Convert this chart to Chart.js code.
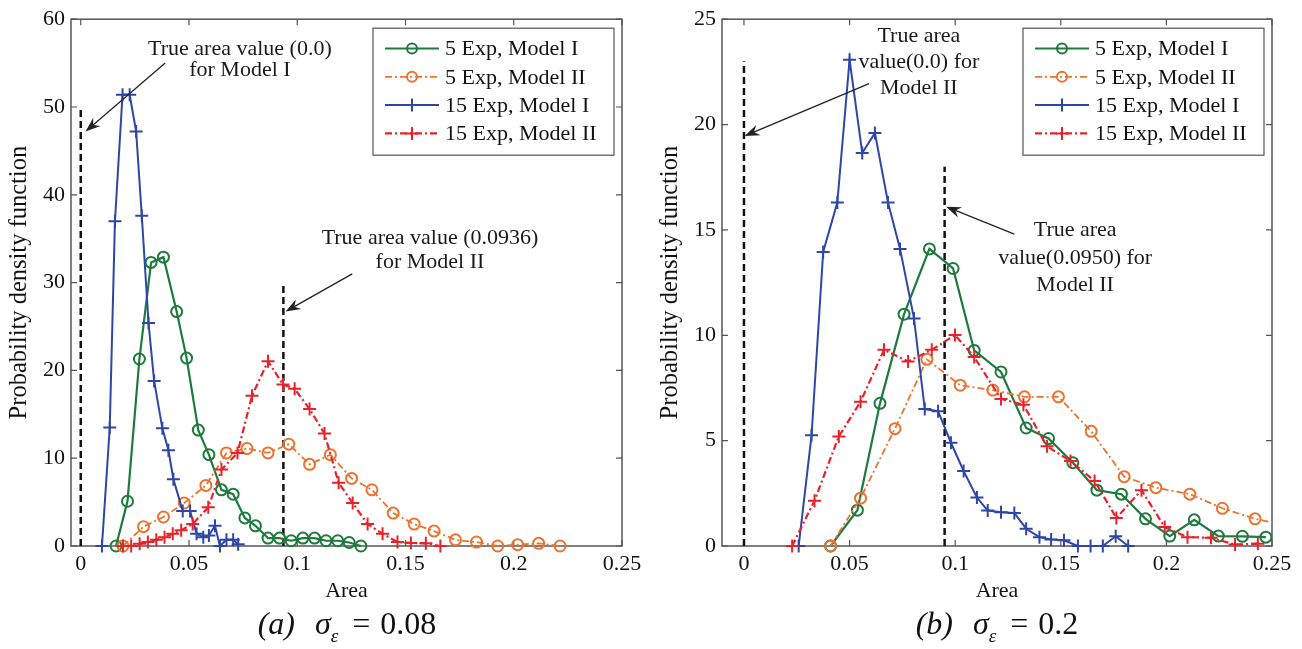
<!DOCTYPE html>
<html>
<head>
<meta charset="utf-8">
<script src="https://cdn.jsdelivr.net/npm/chart.js@4.4.0/dist/chart.umd.min.js"></script>
<style>
  body { margin: 0; background: #fff; width: 1302px; height: 649px; overflow: hidden; position: relative;
         font-family: "Liberation Serif", "Times New Roman", serif; color: #111; }
  .panel { position: absolute; top: 0; width: 651px; height: 606px; }
  .caption { position: absolute; top: 604px; width: 300px; height: 38px; line-height: 38px; font-size: 32px;
             text-align: center; white-space: nowrap; }
  .caption sub { font-size: 60%; vertical-align: -0.4em; }
  .caption .sig { margin-left: 20px; }
  .caption .eq { margin: 0 10px 0 14px; }
</style>
</head>
<body>
<div class="panel" style="left:0"><canvas id="panelA" width="651" height="606"></canvas></div>
<div class="panel" style="left:651px"><canvas id="panelB" width="651" height="606"></canvas></div>
<div class="caption" style="left:197px"><i>(a)</i><i class="sig">σ</i><sub><i>ε</i></sub><span class="eq">=</span>0.08</div>
<div class="caption" style="left:847px"><i>(b)</i><i class="sig">σ</i><sub><i>ε</i></sub><span class="eq">=</span>0.2</div>
<script>
const FONT = '"Liberation Serif", "Times New Roman", serif';

const xTicks = [0, 0.05, 0.1, 0.15, 0.2, 0.25];
const yTicksA = [0, 10, 20, 30, 40, 50, 60];
const yTicksB = [0, 5, 10, 15, 20, 25];

const labels = ['5 Exp, Model I', '5 Exp, Model II', '15 Exp, Model I', '15 Exp, Model II'];

// (a) sigma = 0.08
const a5m1X = [0.0163, 0.0216, 0.0271, 0.0325, 0.0382, 0.0443, 0.0489, 0.0543, 0.0592, 0.065, 0.0704, 0.0758,
               0.0807, 0.0865, 0.0918, 0.0972, 0.1026, 0.108, 0.1133, 0.1187, 0.124, 0.1294];
const a5m1Y = [0, 5.1, 21.3, 32.3, 32.9, 26.7, 21.4, 13.2, 10.4, 6.4, 5.9, 3.2,
               2.3, 0.9, 0.9, 0.6, 0.9, 0.9, 0.6, 0.6, 0.4, 0];
const a5m2X = [0.0195, 0.029, 0.0382, 0.0478, 0.0578, 0.0673, 0.0768, 0.0865, 0.0961, 0.1057, 0.1153, 0.1251,
               0.1345, 0.1443, 0.154, 0.1632, 0.1731, 0.1828, 0.1926, 0.2018, 0.2115, 0.2214];
const a5m2Y = [0, 2.2, 3.3, 4.9, 6.9, 10.6, 11.1, 10.6, 11.6, 9.3, 10.4, 7.7,
               6.4, 3.75, 2.5, 1.7, 0.7, 0.45, 0, 0.15, 0.3, 0];
const a15m1X = [0.0098, 0.0134, 0.0158, 0.0193, 0.0226, 0.0256, 0.0282, 0.0313, 0.0339, 0.0377, 0.0405, 0.0428,
                0.0471, 0.0505, 0.0535, 0.0566, 0.0592, 0.062, 0.0643, 0.0673, 0.0704, 0.0727];
const a15m1Y = [0, 13.5, 37.0, 51.4, 51.4, 47.2, 37.6, 25.4, 18.8, 13.4, 10.9, 7.6,
                4.0, 4.0, 1.4, 1.0, 1.2, 2.3, 0, 0.7, 0.7, 0.2];
const a15m2X = [0.0195, 0.0233, 0.0272, 0.031, 0.0349, 0.0387, 0.0425, 0.0464, 0.0517, 0.0589, 0.065, 0.0724,
                0.0791, 0.0865, 0.0934, 0.0988, 0.1057, 0.1126, 0.1191, 0.1256, 0.1325, 0.1394, 0.1463, 0.1525,
                0.1594, 0.1661];
const a15m2Y = [0, 0, 0.26, 0.45, 0.7, 1.0, 1.4, 1.8, 2.5, 4.4, 8.7, 10.6,
                17.1, 21.05, 18.4, 17.9, 15.6, 12.8, 7.2, 4.9, 2.5, 1.4, 0.45, 0.35,
                0.3, 0];
const trueAreaA = [0, 0.0936];
const trueTopA = [50, 30];

// (b) sigma = 0.2
const b5m1X = [0.041, 0.0537, 0.0644, 0.0758, 0.0878, 0.099, 0.109, 0.1217, 0.1336, 0.1442, 0.1557, 0.1671,
               0.1787, 0.1901, 0.2016, 0.2132, 0.2246, 0.236, 0.2471];
const b5m1Y = [0, 1.7, 6.77, 11.0, 14.1, 13.17, 9.28, 8.26, 5.6, 5.1, 3.95, 2.65,
               2.46, 1.29, 0.47, 1.24, 0.47, 0.46, 0.42];
const b5m2X = [0.041, 0.0552, 0.0715, 0.0866, 0.1024, 0.1178, 0.1328, 0.1489, 0.1644, 0.18, 0.195, 0.2111,
               0.2265, 0.242, 0.2575];
const b5m2Y = [0, 2.27, 5.57, 8.86, 7.63, 7.4, 7.08, 7.08, 5.44, 3.29, 2.77, 2.46,
               1.79, 1.29, 0.95];
const b15m1X = [0.0259, 0.032, 0.0375, 0.0442, 0.05, 0.056, 0.062, 0.0682, 0.0739, 0.0805, 0.0856, 0.0919,
                0.098, 0.104, 0.1103, 0.1154, 0.1217, 0.128, 0.1336, 0.1399, 0.1454, 0.1515, 0.1581, 0.1641,
                0.1699, 0.176, 0.1819];
const b15m1Y = [0, 5.25, 13.95, 16.3, 23.07, 18.65, 19.6, 16.3, 14.1, 10.8, 6.5, 6.4,
                4.9, 3.56, 2.3, 1.68, 1.6, 1.57, 0.82, 0.42, 0.31, 0.27, 0, 0,
                0, 0.46, 0];
const b15m2X = [0.0228, 0.0334, 0.0449, 0.0552, 0.0663, 0.0777, 0.0889, 0.0999, 0.109, 0.1217, 0.1323, 0.1435,
                0.1546, 0.166, 0.1763, 0.1882, 0.1992, 0.21, 0.2211, 0.2325, 0.2433];
const b15m2Y = [0, 2.15, 5.2, 6.85, 9.31, 8.76, 9.31, 10.01, 8.97, 6.98, 6.7, 4.73,
                4.03, 3.09, 1.33, 2.65, 0.9, 0.42, 0.39, 0.07, 0.11];
const trueAreaB = [0, 0.095];
const trueTopB = [23, 18];

// annotation text and arrows, in data units
const notesA = [
  { text: ['True area value (0.0)', 'for Model I'], x: 0.0735, y: [56.6, 54.2],
    from: [0.039, 55.0], to: [0.0022, 47.2] },
  { text: ['True area value (0.0936)', 'for Model II'], x: 0.1613, y: [35.1, 32.3],
    from: [0.1254, 31.0], to: [0.0946, 26.7] }
];
const notesB = [
  { text: ['True area', 'value(0.0) for', 'Model II'], x: 0.0828, y: [24.17, 22.95, 21.73],
    from: [0.0592, 21.94], to: [0.0003, 19.46] },
  { text: ['True area', 'value(0.0950) for', 'Model II'], x: 0.1568, y: [15.0, 13.67, 12.36],
    from: [0.128, 14.8], to: [0.0957, 16.1] }
];

const styles = [
  { borderColor: '#1f7b3d', borderWidth: 2.2, borderDash: [], marker: 'circle', order: 3 },
  { borderColor: '#ea7430', borderWidth: 1.8, borderDash: [7, 3, 2, 3], marker: 'circle', order: 2 },
  { borderColor: '#2e47a6', borderWidth: 2.0, borderDash: [], marker: 'cross', order: 1 },
  { borderColor: '#e8222b', borderWidth: 2.2, borderDash: [7, 3, 2, 3], marker: 'cross', order: 0 }
];

function curve(i, xs, ys) {
  const s = styles[i];
  return {
    label: labels[i],
    data: xs.map((x, k) => ({ x, y: ys[k] })),
    borderColor: s.borderColor,
    borderWidth: s.borderWidth,
    borderDash: s.borderDash,
    pointStyle: s.marker,
    pointRadius: s.marker === 'circle' ? 5.5 : 6.5,
    pointBorderWidth: 2,
    pointBorderColor: s.borderColor,
    pointBackgroundColor: 'rgba(0,0,0,0)',
    tension: 0,
    order: s.order,
    clip: { left: 12, top: 12, right: 0, bottom: 12 }
  };
}

function refLines(xs, tops) {
  return xs.map((v, i) => ({
    label: '',
    data: [{ x: v, y: 0 }, { x: v, y: tops[i] }],
    borderColor: '#111',
    borderWidth: 2.5,
    borderDash: [7, 4],
    pointRadius: 0,
    order: 10,
    clip: 4
  }));
}

function drawMarker(ctx, kind, x, y, r, color, w) {
  ctx.strokeStyle = color;
  ctx.lineWidth = w;
  ctx.setLineDash([]);
  ctx.beginPath();
  if (kind === 'circle') {
    ctx.arc(x, y, r, 0, Math.PI * 2);
  } else {
    ctx.moveTo(x - r, y); ctx.lineTo(x + r, y);
    ctx.moveTo(x, y - r); ctx.lineTo(x, y + r);
  }
  ctx.stroke();
}

// box, inward ticks on all four sides
const frame = {
  id: 'frame',
  beforeDatasetsDraw(chart) {
    const { ctx, chartArea: a, scales: { x, y } } = chart;
    ctx.save();
    ctx.strokeStyle = '#555';
    ctx.lineWidth = 1.2;
    ctx.beginPath();
    x.ticks.forEach(t => {
      const px = x.getPixelForValue(t.value);
      ctx.moveTo(px, a.bottom); ctx.lineTo(px, a.bottom - 6);
      ctx.moveTo(px, a.top); ctx.lineTo(px, a.top + 6);
    });
    y.ticks.forEach(t => {
      const py = y.getPixelForValue(t.value);
      ctx.moveTo(a.left, py); ctx.lineTo(a.left + 6, py);
      ctx.moveTo(a.right, py); ctx.lineTo(a.right - 6, py);
    });
    ctx.stroke();
    ctx.lineWidth = 1.5;
    ctx.strokeRect(a.left, a.top, a.right - a.left, a.bottom - a.top);
    ctx.restore();
  }
};

// legend drawn inside the axes, top right
const boxLegend = {
  id: 'boxLegend',
  afterDatasetsDraw(chart) {
    const { ctx, chartArea: a } = chart;
    const items = chart.data.datasets.filter(d => d.label);
    const w = 241, h = 127;
    const left = a.right - 8 - w, top = a.top + 9;
    ctx.save();
    ctx.fillStyle = '#fff';
    ctx.fillRect(left, top, w, h);
    ctx.strokeStyle = '#555';
    ctx.lineWidth = 1.2;
    ctx.strokeRect(left, top, w, h);
    items.forEach((d, i) => {
      const cy = top + 20.3 + i * 28.3;
      ctx.strokeStyle = d.borderColor;
      ctx.lineWidth = d.borderWidth;
      ctx.setLineDash(d.borderDash);
      ctx.beginPath();
      ctx.moveTo(left + 12, cy);
      ctx.lineTo(left + 66, cy);
      ctx.stroke();
      drawMarker(ctx, d.pointStyle, left + 39, cy, d.pointStyle === 'circle' ? 5 : 6.5, d.borderColor, 2);
      ctx.fillStyle = '#111';
      ctx.font = '22px ' + FONT;
      ctx.textAlign = 'left';
      ctx.textBaseline = 'middle';
      ctx.fillText(d.label, left + 72, cy + 1);
    });
    ctx.restore();
  }
};

function arrow(ctx, x0, y0, x1, y1) {
  const ang = Math.atan2(y1 - y0, x1 - x0);
  const L = 15, W = 5.5, back = 10;
  ctx.strokeStyle = '#222';
  ctx.fillStyle = '#222';
  ctx.lineWidth = 1.3;
  ctx.setLineDash([]);
  ctx.beginPath();
  ctx.moveTo(x0, y0);
  ctx.lineTo(x1 - Math.cos(ang) * back, y1 - Math.sin(ang) * back);
  ctx.stroke();
  ctx.save();
  ctx.translate(x1, y1);
  ctx.rotate(ang);
  ctx.beginPath();
  ctx.moveTo(0, 0);
  ctx.lineTo(-L, -W);
  ctx.lineTo(-back, 0);
  ctx.lineTo(-L, W);
  ctx.closePath();
  ctx.fill();
  ctx.restore();
}

function notesPlugin(items) {
  return {
    id: 'notes',
    afterDatasetsDraw(chart) {
      const { ctx, scales: { x, y } } = chart;
      ctx.save();
      items.forEach(n => {
        ctx.fillStyle = '#1a1a1a';
        ctx.font = '22px ' + FONT;
        ctx.textAlign = 'center';
        ctx.textBaseline = 'middle';
        n.text.forEach((t, i) => ctx.fillText(t, x.getPixelForValue(n.x), y.getPixelForValue(n.y[i])));
        arrow(ctx, x.getPixelForValue(n.from[0]), y.getPixelForValue(n.from[1]),
                   x.getPixelForValue(n.to[0]), y.getPixelForValue(n.to[1]));
      });
      ctx.restore();
    }
  };
}

function makePanel(id, datasets, xMin, yTicks, notes, padRight) {
  const tickFont = { family: FONT, size: 22 };
  return new Chart(document.getElementById(id), {
    type: 'line',
    data: { datasets },
    options: {
      responsive: false,
      animation: false,
      events: [],
      layout: { padding: { top: 14, right: padRight, bottom: 0, left: 0 } },
      plugins: { legend: { display: false }, tooltip: { enabled: false } },
      scales: {
        x: {
          type: 'linear',
          min: xMin,
          max: 0.25,
          grid: { display: false, drawTicks: false },
          border: { display: false },
          afterBuildTicks: s => { s.ticks = xTicks.map(v => ({ value: v })); },
          afterFit: s => { s.height = 60; },
          ticks: { padding: 5, color: '#111', font: tickFont, maxRotation: 0, autoSkip: false,
                   callback: v => String(v) },
          title: { display: true, text: 'Area', color: '#111', font: tickFont, padding: { top: 0, bottom: 2 } }
        },
        y: {
          type: 'linear',
          min: yTicks[0],
          max: yTicks[yTicks.length - 1],
          grid: { display: false, drawTicks: false },
          border: { display: false },
          afterBuildTicks: s => { s.ticks = yTicks.map(v => ({ value: v })); },
          afterFit: s => { s.width = 71; },
          ticks: { padding: 6, color: '#111', font: tickFont, callback: v => String(v) },
          title: { display: true, text: 'Probability density function', color: '#111',
                   font: { family: FONT, size: 24.5 }, padding: { top: 5, bottom: 0 } }
        }
      }
    },
    plugins: [frame, notesPlugin(notes), boxLegend]
  });
}

makePanel('panelA', [
  curve(0, a5m1X, a5m1Y),
  curve(1, a5m2X, a5m2Y),
  curve(2, a15m1X, a15m1Y),
  curve(3, a15m2X, a15m2Y),
  ...refLines(trueAreaA, trueTopA)
], -0.0045, yTicksA, notesA, 29);

makePanel('panelB', [
  curve(0, b5m1X, b5m1Y),
  curve(1, b5m2X, b5m2Y),
  curve(2, b15m1X, b15m1Y),
  curve(3, b15m2X, b15m2Y),
  ...refLines(trueAreaB, trueTopB)
], -0.0104, yTicksB, notesB, 30);
</script>
</body>
</html>
